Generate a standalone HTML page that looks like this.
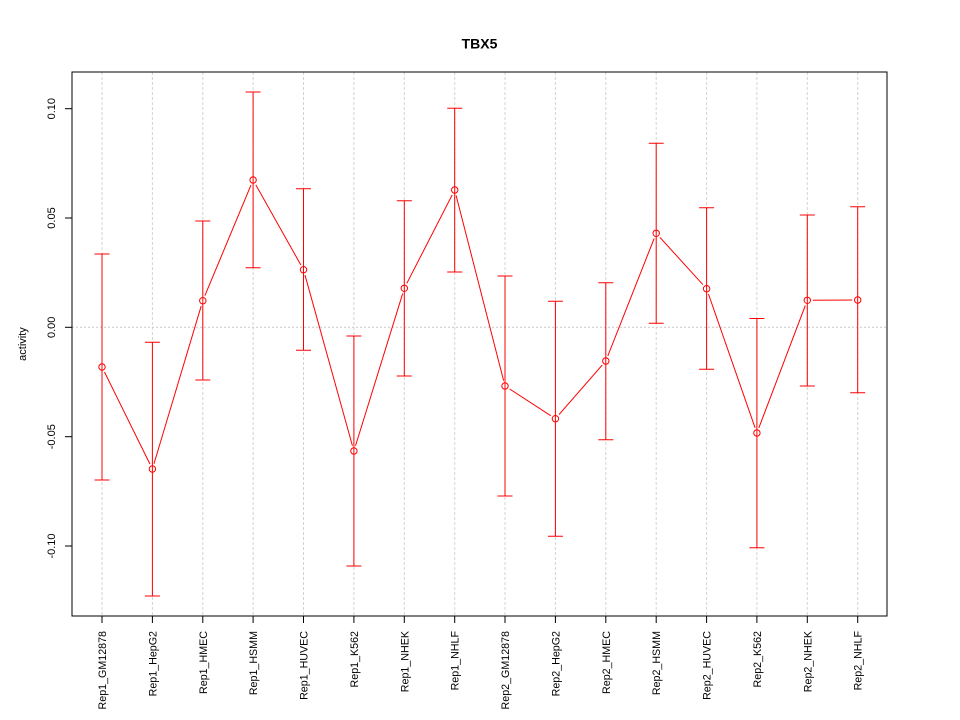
<!DOCTYPE html>
<html><head><meta charset="utf-8"><style>
html,body{margin:0;padding:0;background:#fff;}
svg{display:block;font-family:"Liberation Sans",Arial,sans-serif;}
</style></head><body>
<svg width="960" height="720" viewBox="0 0 960 720" xmlns="http://www.w3.org/2000/svg">
<rect width="960" height="720" fill="#fff"/>
<text x="479.5" y="48.3" font-size="14" font-weight="bold" text-anchor="middle">TBX5</text>
<!-- grid -->
<g stroke="#d3d3d3" stroke-width="1" stroke-dasharray="3,2" fill="none">
<line x1="102" y1="72" x2="102" y2="616"/>
<line x1="152.4" y1="72" x2="152.4" y2="616"/>
<line x1="202.8" y1="72" x2="202.8" y2="616"/>
<line x1="253.1" y1="72" x2="253.1" y2="616"/>
<line x1="303.5" y1="72" x2="303.5" y2="616"/>
<line x1="353.9" y1="72" x2="353.9" y2="616"/>
<line x1="404.3" y1="72" x2="404.3" y2="616"/>
<line x1="454.7" y1="72" x2="454.7" y2="616"/>
<line x1="505" y1="72" x2="505" y2="616"/>
<line x1="555.4" y1="72" x2="555.4" y2="616"/>
<line x1="605.8" y1="72" x2="605.8" y2="616"/>
<line x1="656.2" y1="72" x2="656.2" y2="616"/>
<line x1="706.6" y1="72" x2="706.6" y2="616"/>
<line x1="756.9" y1="72" x2="756.9" y2="616"/>
<line x1="807.3" y1="72" x2="807.3" y2="616"/>
<line x1="857.7" y1="72" x2="857.7" y2="616"/>
<line x1="72" y1="327.3" x2="887" y2="327.3" stroke-dasharray="2,2" stroke="#c8c8c8"/>
</g>
<!-- connecting line -->
<polyline fill="none" stroke="#ff0000" stroke-width="1" points="102,367 152.4,469 202.8,300.7 253.1,180 303.5,269.7 353.9,451 404.3,288.3 454.7,190 505,386 555.4,418.7 605.8,361 656.2,233.3 706.6,288.7 756.9,433 807.3,300.3 857.7,300"/>
<g fill="#fff" stroke="none">
<circle cx="102" cy="367" r="5.5"/><circle cx="152.4" cy="469" r="5.5"/><circle cx="202.8" cy="300.7" r="5.5"/><circle cx="253.1" cy="180" r="5.5"/><circle cx="303.5" cy="269.7" r="5.5"/><circle cx="353.9" cy="451" r="5.5"/><circle cx="404.3" cy="288.3" r="5.5"/><circle cx="454.7" cy="190" r="5.5"/><circle cx="505" cy="386" r="5.5"/><circle cx="555.4" cy="418.7" r="5.5"/><circle cx="605.8" cy="361" r="5.5"/><circle cx="656.2" cy="233.3" r="5.5"/><circle cx="706.6" cy="288.7" r="5.5"/><circle cx="756.9" cy="433" r="5.5"/><circle cx="807.3" cy="300.3" r="5.5"/><circle cx="857.7" cy="300" r="5.5"/>
</g>
<!-- error bars -->
<g stroke="#ff0000" stroke-width="1" fill="none">
<path d="M102,254V480M94.5,254H109.5M94.5,480H109.5"/>
<path d="M152.4,342.3V596M144.9,342.3H159.9M144.9,596H159.9"/>
<path d="M202.8,221V380M195.3,221H210.3M195.3,380H210.3"/>
<path d="M253.1,92V267.7M245.6,92H260.6M245.6,267.7H260.6"/>
<path d="M303.5,188.7V350.3M296,188.7H311M296,350.3H311"/>
<path d="M353.9,336V566M346.4,336H361.4M346.4,566H361.4"/>
<path d="M404.3,200.7V376M396.8,200.7H411.8M396.8,376H411.8"/>
<path d="M454.7,108.3V272M447.2,108.3H462.2M447.2,272H462.2"/>
<path d="M505,276V496M497.5,276H512.5M497.5,496H512.5"/>
<path d="M555.4,301.3V536.3M547.9,301.3H562.9M547.9,536.3H562.9"/>
<path d="M605.8,282.7V439.7M598.3,282.7H613.3M598.3,439.7H613.3"/>
<path d="M656.2,143.3V323.3M648.7,143.3H663.7M648.7,323.3H663.7"/>
<path d="M706.6,207.7V369.3M699.1,207.7H714.1M699.1,369.3H714.1"/>
<path d="M756.9,318.5V547.7M749.4,318.5H764.4M749.4,547.7H764.4"/>
<path d="M807.3,215V386M799.8,215H814.8M799.8,386H814.8"/>
<path d="M857.7,206.7V392.7M850.2,206.7H865.2M850.2,392.7H865.2"/>
</g>
<!-- points -->
<g fill="none" stroke="#ff0000" stroke-width="1">
<circle cx="102" cy="367" r="3.2"/><circle cx="152.4" cy="469" r="3.2"/><circle cx="202.8" cy="300.7" r="3.2"/><circle cx="253.1" cy="180" r="3.2"/><circle cx="303.5" cy="269.7" r="3.2"/><circle cx="353.9" cy="451" r="3.2"/><circle cx="404.3" cy="288.3" r="3.2"/><circle cx="454.7" cy="190" r="3.2"/><circle cx="505" cy="386" r="3.2"/><circle cx="555.4" cy="418.7" r="3.2"/><circle cx="605.8" cy="361" r="3.2"/><circle cx="656.2" cy="233.3" r="3.2"/><circle cx="706.6" cy="288.7" r="3.2"/><circle cx="756.9" cy="433" r="3.2"/><circle cx="807.3" cy="300.3" r="3.2"/><circle cx="857.7" cy="300" r="3.2"/>
</g>
<!-- frame -->
<rect x="72" y="72" width="815" height="544" fill="none" stroke="#000" stroke-width="1"/>
<!-- y axis ticks -->
<g stroke="#000" stroke-width="1">
<line x1="65" y1="108.7" x2="72" y2="108.7"/>
<line x1="65" y1="218" x2="72" y2="218"/>
<line x1="65" y1="327.3" x2="72" y2="327.3"/>
<line x1="65" y1="436.7" x2="72" y2="436.7"/>
<line x1="65" y1="546" x2="72" y2="546"/>
</g>
<g font-size="11" text-anchor="middle" fill="#000">
<text transform="translate(55,108.7) rotate(-90)">0.10</text>
<text transform="translate(55,218) rotate(-90)">0.05</text>
<text transform="translate(55,327.3) rotate(-90)">0.00</text>
<text transform="translate(55,436.7) rotate(-90)">-0.05</text>
<text transform="translate(55,546) rotate(-90)">-0.10</text>
<text transform="translate(26,344) rotate(-90)">activity</text>
</g>
<!-- x axis ticks -->
<g stroke="#000" stroke-width="1">
<path d="M102,616V623M152.4,616V623M202.8,616V623M253.1,616V623M303.5,616V623M353.9,616V623M404.3,616V623M454.7,616V623M505,616V623M555.4,616V623M605.8,616V623M656.2,616V623M706.6,616V623M756.9,616V623M807.3,616V623M857.7,616V623"/>
</g>
<g font-size="10.7" text-anchor="end" fill="#000">
<text transform="translate(106,631) rotate(-90)">Rep1_GM12878</text>
<text transform="translate(156.4,631) rotate(-90)">Rep1_HepG2</text>
<text transform="translate(206.8,631) rotate(-90)">Rep1_HMEC</text>
<text transform="translate(257.1,631) rotate(-90)">Rep1_HSMM</text>
<text transform="translate(307.5,631) rotate(-90)">Rep1_HUVEC</text>
<text transform="translate(357.9,631) rotate(-90)">Rep1_K562</text>
<text transform="translate(408.3,631) rotate(-90)">Rep1_NHEK</text>
<text transform="translate(458.7,631) rotate(-90)">Rep1_NHLF</text>
<text transform="translate(509,631) rotate(-90)">Rep2_GM12878</text>
<text transform="translate(559.4,631) rotate(-90)">Rep2_HepG2</text>
<text transform="translate(609.8,631) rotate(-90)">Rep2_HMEC</text>
<text transform="translate(660.2,631) rotate(-90)">Rep2_HSMM</text>
<text transform="translate(710.6,631) rotate(-90)">Rep2_HUVEC</text>
<text transform="translate(760.9,631) rotate(-90)">Rep2_K562</text>
<text transform="translate(811.3,631) rotate(-90)">Rep2_NHEK</text>
<text transform="translate(861.7,631) rotate(-90)">Rep2_NHLF</text>
</g>
</svg>
</body></html>
